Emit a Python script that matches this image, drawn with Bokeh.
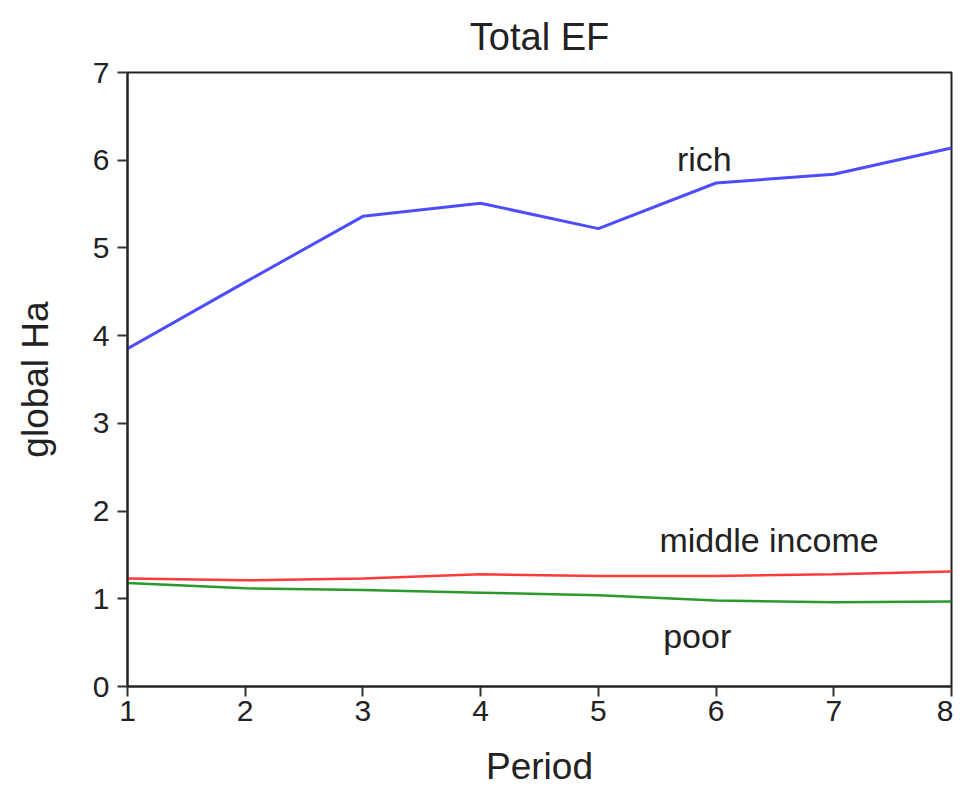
from bokeh.plotting import figure
from bokeh.models import Range1d, FixedTicker, ColumnDataSource
from bokeh.embed import file_html
from bokeh.resources import INLINE
from bokeh.core.properties import value

period = [1, 2, 3, 4, 5, 6, 7, 8]
rich = [3.85, 4.61, 5.36, 5.51, 5.22, 5.74, 5.84, 6.14]
middle = [1.23, 1.21, 1.23, 1.28, 1.26, 1.26, 1.28, 1.31]
poor = [1.18, 1.12, 1.10, 1.07, 1.04, 0.98, 0.96, 0.97]

x_ticks = [1, 2, 3, 4, 5, 6, 7, 8]
y_ticks = [0, 1, 2, 3, 4, 5, 6, 7]

title_text = "Total EF"
label_text = ["rich", "middle income", "poor"]
label_x = [5.90, 6.45, 5.84]
label_y = [6.01, 1.67, 0.58]

FONT = "Liberation Sans"

p = figure(width=953, height=789, output_backend="svg", toolbar_location=None,
           x_range=Range1d(1, 8), y_range=Range1d(0, 7),
           min_border_left=127, min_border_right=2, min_border_top=72, min_border_bottom=92,
           title=title_text)

p.title.text_font = FONT
p.title.text_font_size = "38px"
p.title.text_font_style = "normal"
p.title.align = "center"
p.title.vertical_align = "top"
p.title.text_color = "#222222"
p.title.standoff = 25

p.xgrid.visible = False
p.ygrid.visible = False
p.outline_line_color = "#222222"
p.outline_line_width = 2
p.background_fill_color = "white"
p.border_fill_color = "white"

for ax, ticks in ((p.xaxis[0], x_ticks), (p.yaxis[0], y_ticks)):
    ax.ticker = FixedTicker(ticks=ticks)
    ax.minor_tick_line_color = None
    ax.major_tick_out = 10
    ax.major_tick_in = 0
    ax.major_tick_line_width = 2
    ax.major_tick_line_color = "#333333"
    ax.axis_line_width = 2
    ax.axis_line_color = "#222222"
    ax.major_label_text_font = FONT
    ax.major_label_text_font_size = "30px"
    ax.major_label_text_color = "#222222"
    ax.axis_label_text_font = FONT
    ax.axis_label_text_font_size = "37px"
    ax.axis_label_text_font_style = "normal"
    ax.axis_label_text_color = "#222222"

p.xaxis.axis_label = "Period"
p.yaxis.axis_label = "global Ha"
p.xaxis.major_label_standoff = 4
p.yaxis.major_label_standoff = 8
p.xaxis.axis_label_standoff = 22
p.yaxis.axis_label_standoff = 34

p.line(period, rich, line_color="#4d4dff", line_width=3)
p.line(period, middle, line_color="#ff3b3b", line_width=2.5)
p.line(period, poor, line_color="#2a9a2a", line_width=2.5)

src = ColumnDataSource(dict(x=label_x, y=label_y, t=label_text))
p.text(x="x", y="y", text="t", source=src, text_font=value(FONT), text_font_size="34px",
       text_align="center", text_baseline="alphabetic", text_color="#222222")

open("out.html", "w").write(file_html(p, INLINE))
